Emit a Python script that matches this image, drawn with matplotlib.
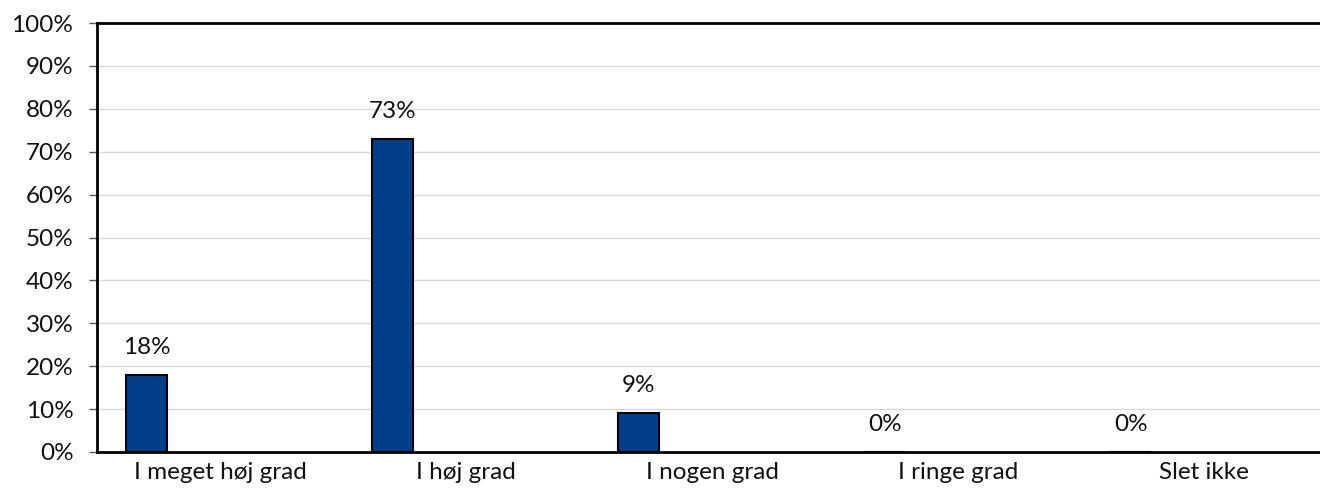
import matplotlib
matplotlib.use("Agg")
from matplotlib import pyplot as plt
import numpy as np

categories = ["I meget høj grad", "I høj grad", "I nogen grad", "I ringe grad", "Slet ikke"]
values = [18, 73, 9, 0, 0]
yticks = [0, 10, 20, 30, 40, 50, 60, 70, 80, 90, 100]

plt.rcParams['font.family'] = ['Lato', 'DejaVu Sans']

fig = plt.figure(figsize=(13.2, 4.95), dpi=100)
ax = fig.add_axes([97 / 1320, 43 / 495, 1230 / 1320, 429 / 495])

x = np.arange(len(categories))
offset = -0.297
bars = ax.bar(x + offset, values, width=0.167, color="#023f88",
              edgecolor="black", linewidth=1.5, zorder=3)

for xi, v in zip(x, values):
    ax.text(xi + offset, v + 4, "%d%%" % v, ha="center", va="bottom",
            fontsize=17.5, color="#111111")

ax.set_xlim(-0.5, len(categories) - 0.5)
ax.set_ylim(0, 100)
ax.set_yticks(yticks)
ax.set_yticklabels(["%d%%" % t for t in yticks])
ax.set_xticks(x)
ax.set_xticklabels(categories)

ax.yaxis.grid(True, color="#d9d9d9", linewidth=1, zorder=0)
ax.xaxis.grid(False)
ax.tick_params(axis="y", length=6, width=1, color="#595959", pad=11,
               labelsize=17.5, labelcolor="#111111")
ax.tick_params(axis="x", length=0, pad=7, labelsize=17.5, labelcolor="#111111")

for s in ["left", "bottom", "top"]:
    ax.spines[s].set_color("black")
    ax.spines[s].set_linewidth(2)
ax.spines["right"].set_visible(False)

plt.savefig("out.png", dpi=100)
